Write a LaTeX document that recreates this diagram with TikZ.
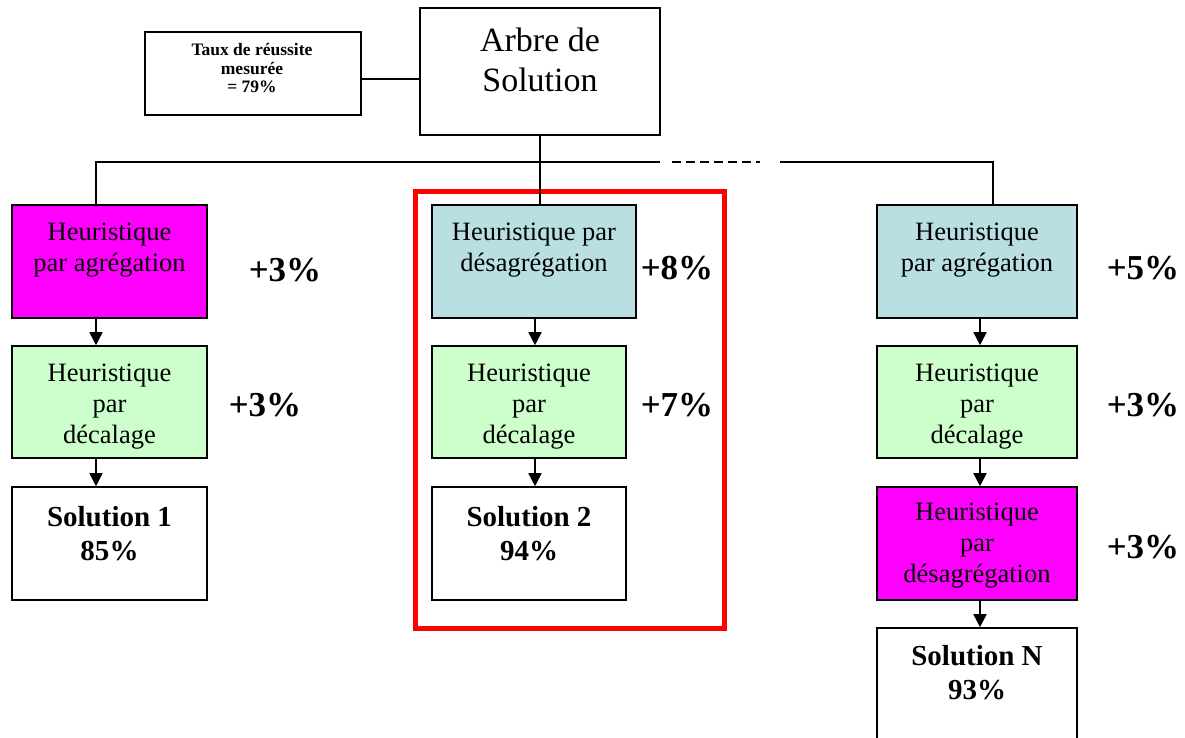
\documentclass[tikz,border=0pt]{standalone}
\usepackage{fontspec}
\setmainfont{Liberation Serif}
\usetikzlibrary{arrows.meta}
\definecolor{magbox}{HTML}{FF00FF}
\definecolor{bluebox}{HTML}{B9DFE3}
\definecolor{greenbox}{HTML}{CCFFCC}
\tikzset{
  box/.style={draw=black, line width=1.6pt, rectangle, inner sep=0pt},
  heur/.style={anchor=north, align=center, inner sep=0pt, font=\fontsize{26.5}{31}\selectfont},
  sol/.style={anchor=north, align=center, inner sep=0pt, font=\fontsize{29}{34}\selectfont\bfseries},
  pct/.style={anchor=center, inner sep=0pt, font=\fontsize{35}{40}\selectfont\bfseries},
  conn/.style={line width=1.6pt},
  arr/.style={line width=1.6pt, -{Triangle[width=13pt,length=13pt]}},
}
\begin{document}
\begin{tikzpicture}[x=1pt,y=-1pt]
\useasboundingbox (0,0) rectangle (1185,738);
% top boxes
\node[box, minimum width=216pt, minimum height=83pt] (taux) at (253,73.5) {};
\node[anchor=center, align=center, inner sep=0pt,
      font=\fontsize{17.5}{18.5}\selectfont\bfseries] (tauxt) at (252,68.5)
      {Taux de réussite\\mesurée\\= 79\%};
\node[box, minimum width=240pt, minimum height=127pt] (arbre) at (540,71.5) {};
\node[anchor=center, align=center, inner sep=0pt,
      font=\fontsize{34}{40}\selectfont] (arbret) at (540,59.5) {Arbre de\\Solution};
\draw[conn] ([yshift=-5.5pt]taux.east) coordinate (tc) -- (tc -| arbre.west);
% left column
\node[box, fill=magbox, minimum width=195pt, minimum height=113pt] (L1) at (109.5,261.5) {};
\node[heur] (L1t) at ([yshift=-19pt]L1.north) {Heuristique\\par agrégation};
\node[box, fill=greenbox, minimum width=195pt, minimum height=112pt] (L2) at (109.5,402) {};
\node[heur] (L2t) at ([yshift=-19pt]L2.north) {Heuristique\\par\\décalage};
\node[box, fill=white, minimum width=195pt, minimum height=113pt] (L3) at (109.5,543.5) {};
\node[sol] (L3t) at ([yshift=-20pt]L3.north) {Solution 1\\85\%};
\node[pct] (pL1) at (285,270) {+3\%};
\node[pct] (pL2) at (265,405) {+3\%};
% middle column
\node[box, fill=bluebox, minimum width=204pt, minimum height=113pt] (M1) at (534,261.5) {};
\node[heur] (M1t) at ([yshift=-19pt]M1.north) {Heuristique par\\désagrégation};
\node[box, fill=greenbox, minimum width=194pt, minimum height=112pt] (M2) at (529,402) {};
\node[heur] (M2t) at ([yshift=-19pt]M2.north) {Heuristique\\par\\décalage};
\node[box, fill=white, minimum width=194pt, minimum height=113pt] (M3) at (529,543.5) {};
\node[sol] (M3t) at ([yshift=-20pt]M3.north) {Solution 2\\94\%};
\node[pct] (pM1) at (677,268) {+8\%};
\node[pct] (pM2) at (677,405) {+7\%};
\node[draw=red, line width=5pt, minimum width=309pt, minimum height=436pt, inner sep=0pt] (focus) at (569.5,410) {};
% right column
\node[box, fill=bluebox, minimum width=200pt, minimum height=113pt] (R1) at (977,261.5) {};
\node[heur] (R1t) at ([yshift=-19pt]R1.north) {Heuristique\\par agrégation};
\node[box, fill=greenbox, minimum width=200pt, minimum height=112pt] (R2) at (977,402) {};
\node[heur] (R2t) at ([yshift=-19pt]R2.north) {Heuristique\\par\\décalage};
\node[box, fill=magbox, minimum width=200pt, minimum height=113pt] (R3) at (977,543.5) {};
\node[heur] (R3t) at ([yshift=-17pt]R3.north) {Heuristique\\par\\désagrégation};
\node[box, fill=white, minimum width=200pt, minimum height=140pt] (R4) at (977,698) {};
\node[sol] (R4t) at ([yshift=-18pt]R4.north) {Solution N\\93\%};
\node[pct] (pR1) at (1143,268) {+5\%};
\node[pct] (pR2) at (1143,405) {+3\%};
\node[pct] (pR3) at (1143,547) {+3\%};
% tree connectors
\coordinate (busL) at (96,162);
\coordinate (busM) at (540,162);
\coordinate (busA) at (660,162);
\coordinate (busB) at (760,162);
\coordinate (busC) at (780,162);
\coordinate (busR) at (993,162);
\draw[conn] (arbre.south -| busM) -- (busM) -- (M1.north -| busM);
\draw[conn] (L1.north -| busL) -- (busL) -- (busA);
\draw[conn, dash pattern=on 9pt off 5pt] ([xshift=12pt]busA) -- (busB);
\draw[conn] (busC) -- (busR) -- (R1.north -| busR);
% arrows
\draw[arr] (L1.south -| busL) -- (L2.north -| busL);
\draw[arr] (L2.south -| busL) -- (L3.north -| busL);
\draw[arr] ([xshift=1pt]M1.south) -- ([xshift=6pt]M2.north);
\draw[arr] ([xshift=6pt]M2.south) -- ([xshift=6pt]M3.north);
\draw[arr] ([xshift=3pt]R1.south) -- ([xshift=3pt]R2.north);
\draw[arr] ([xshift=3pt]R2.south) -- ([xshift=3pt]R3.north);
\draw[arr] ([xshift=3pt]R3.south) -- ([xshift=3pt]R4.north);
\end{tikzpicture}
\end{document}
